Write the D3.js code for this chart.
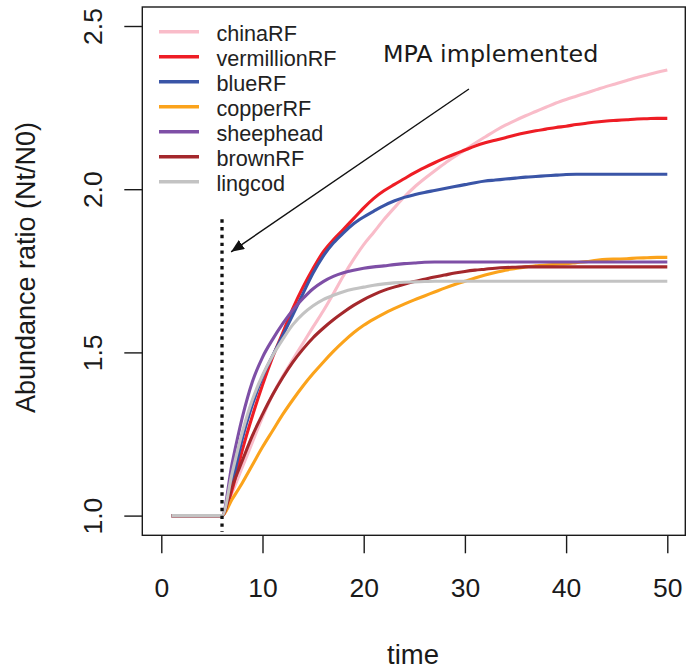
<!DOCTYPE html>
<html>
<head>
<meta charset="utf-8">
<script src="https://cdn.jsdelivr.net/npm/d3@7"></script>
<style>
  html, body { margin: 0; padding: 0; background: #fff; }
  svg { display: block; }
</style>
</head>
<body>
<svg id="chart" width="686" height="671"></svg>
<script>
// ---------- data ----------
const time = d3.range(1, 51); // 1..50
const seriesNames = ["chinaRF", "vermillionRF", "blueRF", "copperRF", "sheephead", "brownRF", "lingcod"];
const seriesColors = ["#F9BCC9", "#EE1D25", "#3A55A7", "#FBA31B", "#7E4FA6", "#A4282C", "#C3C3C3"];
const pre = [1, 1, 1, 1, 1]; // t = 1..5
const chinaRF = pre.concat([1.0, 1.07, 1.148, 1.225, 1.302, 1.37, 1.427, 1.478, 1.528, 1.578, 1.627, 1.68, 1.735, 1.785, 1.83, 1.868, 1.907, 1.942, 1.976, 2.006, 2.032, 2.056, 2.079, 2.10, 2.12, 2.141, 2.16, 2.179, 2.196, 2.211, 2.225, 2.238, 2.251, 2.264, 2.275, 2.285, 2.295, 2.305, 2.315, 2.324, 2.333, 2.342, 2.35, 2.358, 2.365]);
const vermillionRF = pre.concat([1.0, 1.08, 1.20, 1.305, 1.40, 1.485, 1.56, 1.635, 1.70, 1.757, 1.808, 1.845, 1.877, 1.91, 1.943, 1.972, 1.995, 2.014, 2.032, 2.05, 2.066, 2.081, 2.095, 2.108, 2.12, 2.132, 2.142, 2.15, 2.158, 2.166, 2.173, 2.179, 2.184, 2.189, 2.193, 2.198, 2.202, 2.206, 2.209, 2.211, 2.213, 2.215, 2.216, 2.217, 2.217]);
const blueRF = pre.concat([1.0, 1.10, 1.235, 1.34, 1.425, 1.49, 1.552, 1.615, 1.68, 1.743, 1.795, 1.835, 1.866, 1.894, 1.915, 1.933, 1.95, 1.964, 1.975, 1.983, 1.99, 1.996, 2.002, 2.008, 2.014, 2.02, 2.025, 2.028, 2.031, 2.034, 2.037, 2.039, 2.041, 2.043, 2.045, 2.046, 2.046, 2.046, 2.046, 2.046, 2.046, 2.046, 2.046, 2.046, 2.046]);
const copperRF = pre.concat([1.0, 1.05, 1.10, 1.155, 1.21, 1.26, 1.31, 1.355, 1.397, 1.435, 1.47, 1.503, 1.533, 1.56, 1.583, 1.602, 1.619, 1.634, 1.648, 1.661, 1.673, 1.685, 1.697, 1.708, 1.718, 1.728, 1.737, 1.745, 1.752, 1.757, 1.762, 1.765, 1.768, 1.770, 1.772, 1.775, 1.778, 1.782, 1.785, 1.786, 1.787, 1.789, 1.790, 1.791, 1.791]);
const sheephead = pre.concat([1.0, 1.16, 1.30, 1.41, 1.485, 1.54, 1.588, 1.63, 1.665, 1.695, 1.717, 1.733, 1.744, 1.752, 1.758, 1.762, 1.765, 1.769, 1.772, 1.774, 1.776, 1.777, 1.777, 1.777, 1.777, 1.777, 1.777, 1.777, 1.777, 1.777, 1.777, 1.777, 1.777, 1.777, 1.777, 1.777, 1.777, 1.777, 1.777, 1.777, 1.777, 1.777, 1.777, 1.777, 1.777]);
const brownRF = pre.concat([1.0, 1.09, 1.168, 1.245, 1.31, 1.37, 1.423, 1.47, 1.51, 1.545, 1.574, 1.60, 1.623, 1.644, 1.662, 1.677, 1.69, 1.70, 1.709, 1.717, 1.724, 1.731, 1.737, 1.743, 1.748, 1.752, 1.755, 1.758, 1.760, 1.761, 1.762, 1.762, 1.762, 1.762, 1.762, 1.762, 1.762, 1.762, 1.762, 1.762, 1.762, 1.762, 1.762, 1.762, 1.762]);
const lingcod = pre.concat([1.0, 1.13, 1.255, 1.355, 1.43, 1.49, 1.54, 1.585, 1.618, 1.643, 1.662, 1.675, 1.686, 1.694, 1.70, 1.706, 1.71, 1.713, 1.715, 1.716, 1.717, 1.718, 1.718, 1.718, 1.718, 1.718, 1.718, 1.718, 1.718, 1.718, 1.718, 1.718, 1.718, 1.718, 1.718, 1.718, 1.718, 1.718, 1.718, 1.718, 1.718, 1.718, 1.718, 1.718, 1.718]);
const seriesValues = [chinaRF, vermillionRF, blueRF, copperRF, sheephead, brownRF, lingcod];

const xTicks = [0, 10, 20, 30, 40, 50];
const yTicks = [1.0, 1.5, 2.0, 2.5];
const xTitle = "time";
const yTitle = "Abundance ratio (Nt/N0)";
const mpaTime = 6;
const mpaLineRange = [0.95, 1.908];
const annotationText = "MPA implemented";
const annotationPos = [21.9, 2.391];
const arrowFrom = [30.4, 2.307];
const arrowTo = [6.9, 1.808];

// ---------- layout ----------
const svg = d3.select("#chart");
const box = { left: 142.3, right: 685.3, top: 7, bottom: 535.3 };
const x = d3.scaleLinear().domain([0, 50]).range([161.3, 667.3]);
const y = d3.scaleLinear().domain([1, 2.5]).range([515.6, 26]);
const axisColor = "#1a1a1a";
const font = "Liberation Sans, Arial, Helvetica, sans-serif";

// clip to plot box
svg.append("defs").append("clipPath").attr("id", "clip")
  .append("rect").attr("x", box.left).attr("y", box.top)
  .attr("width", box.right - box.left).attr("height", box.bottom - box.top);

// arrow marker
svg.select("defs").append("marker")
  .attr("id", "arrowhead").attr("viewBox", "0 0 12 10")
  .attr("refX", 12).attr("refY", 5)
  .attr("markerUnits", "userSpaceOnUse")
  .attr("markerWidth", 13).attr("markerHeight", 11)
  .attr("orient", "auto")
  .append("path").attr("d", "M0,0 L12,5 L0,10 Z").attr("fill", "#111");

// series lines
const line = d3.line().curve(d3.curveMonotoneX).x((d, i) => x(time[i])).y(d => y(d));
const gLines = svg.append("g").attr("clip-path", "url(#clip)");
seriesValues.forEach((vals, k) => {
  gLines.append("path")
    .datum(vals)
    .attr("d", line)
    .attr("fill", "none")
    .attr("stroke", seriesColors[k])
    .attr("stroke-width", 3.1)
    .attr("stroke-linejoin", "round");
});

// dotted MPA line
svg.append("line")
  .attr("x1", x(mpaTime)).attr("x2", x(mpaTime))
  .attr("y1", y(mpaLineRange[1])).attr("y2", y(mpaLineRange[0]))
  .attr("stroke", "#111").attr("stroke-width", 3.3)
  .attr("stroke-dasharray", "3.4 4.4");

// box
svg.append("rect")
  .attr("x", box.left).attr("y", box.top)
  .attr("width", box.right - box.left).attr("height", box.bottom - box.top)
  .attr("fill", "none").attr("stroke", axisColor).attr("stroke-width", 1.4);

// x axis
const xAxis = d3.axisBottom(x).tickValues(xTicks).tickSize(18).tickPadding(24)
  .tickFormat(d3.format("d"));
const gx = svg.append("g").attr("transform", `translate(0,${box.bottom})`).call(xAxis);
gx.select(".domain").remove();
gx.selectAll(".tick line").attr("stroke", axisColor).attr("stroke-width", 1.4);
gx.selectAll(".tick text").attr("font-family", font).attr("font-size", 26.5)
  .attr("fill", "#1a1a1a").attr("dy", null).attr("y", 62);

// y axis
const yAxis = d3.axisLeft(y).tickValues(yTicks).tickSize(18).tickFormat(d3.format(".1f"));
const gy = svg.append("g").attr("transform", `translate(${box.left},0)`).call(yAxis);
gy.select(".domain").remove();
gy.selectAll(".tick line").attr("stroke", axisColor).attr("stroke-width", 1.4);
gy.selectAll(".tick text")
  .attr("font-family", font).attr("font-size", 26.5).attr("fill", "#1a1a1a")
  .attr("x", null).attr("dy", null)
  .attr("text-anchor", "middle")
  .attr("transform", "translate(-40.8,0) rotate(-90)");

// axis titles
svg.append("text").attr("x", 413).attr("y", 663.5)
  .attr("text-anchor", "middle").attr("font-family", font).attr("font-size", 27.5)
  .attr("fill", "#1a1a1a").text(xTitle);
svg.append("text")
  .attr("transform", "translate(35,267.5) rotate(-90)")
  .attr("text-anchor", "middle").attr("font-family", font).attr("font-size", 27)
  .attr("fill", "#1a1a1a").text(yTitle);

// legend
const legend = svg.append("g");
seriesNames.forEach((name, k) => {
  const ly = 31.7 + k * 25;
  legend.append("line").attr("x1", 159).attr("x2", 199).attr("y1", ly).attr("y2", ly)
    .attr("stroke", seriesColors[k]).attr("stroke-width", 3.5);
  legend.append("text").attr("x", 216.5).attr("y", ly + 8.8)
    .attr("font-family", font).attr("font-size", 21.6).attr("fill", "#222").text(name);
});

// annotation
svg.append("text")
  .attr("x", x(annotationPos[0])).attr("y", y(annotationPos[1]))
  .attr("font-family", "DejaVu Sans, sans-serif").attr("font-size", 23.8)
  .attr("fill", "#1a1a1a").text(annotationText);
svg.append("line")
  .attr("x1", x(arrowFrom[0])).attr("y1", y(arrowFrom[1]))
  .attr("x2", x(arrowTo[0])).attr("y2", y(arrowTo[1]))
  .attr("stroke", "#111").attr("stroke-width", 1.4)
  .attr("marker-end", "url(#arrowhead)");
</script>
</body>
</html>
